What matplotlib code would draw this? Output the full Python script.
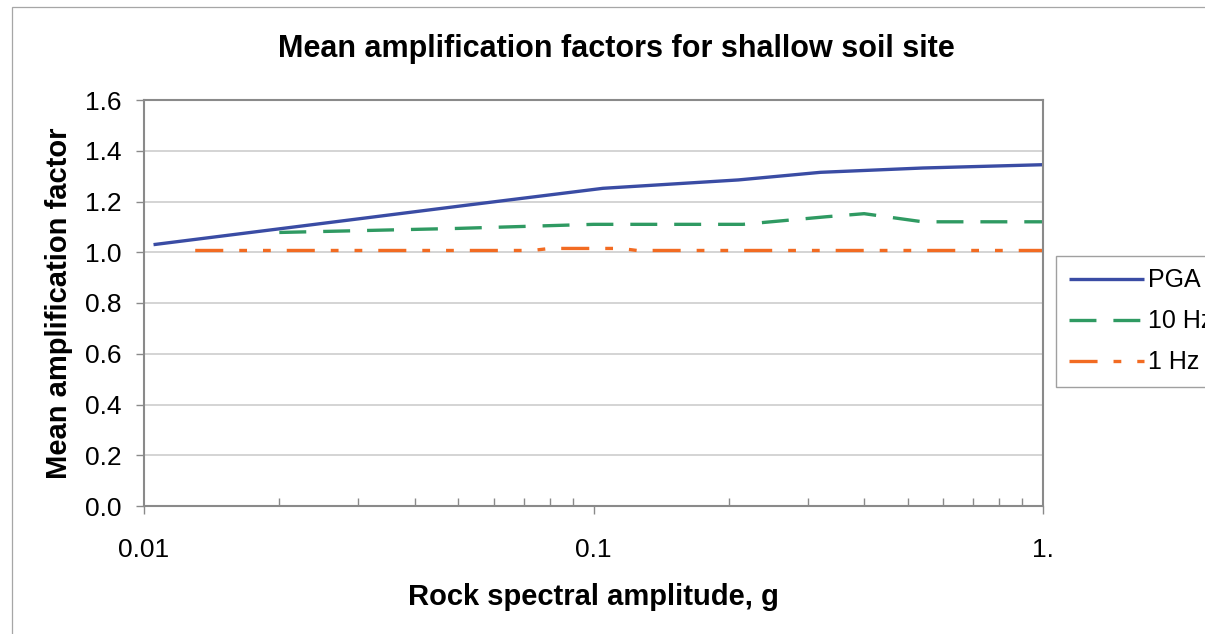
"""Mean amplification factors for a shallow soil site vs rock spectral amplitude (log x)."""
import numpy as np
import matplotlib
matplotlib.use("Agg")
import matplotlib.pyplot as plt
from matplotlib.patches import Rectangle
from matplotlib.ticker import FixedLocator, LogLocator, NullFormatter

plt.rcParams.update({"font.family": ["Liberation Sans", "DejaVu Sans"],
                     "lines.scale_dashes": False})

# rock spectral amplitude (g) and mean amplification factor, one pair of arrays per series
pga_x = [0.0105, 0.021, 0.052, 0.105, 0.21, 0.32, 0.54, 1.0]
pga_y = [1.03, 1.097, 1.185, 1.252, 1.285, 1.315, 1.332, 1.345]
hz10_x = [0.02, 0.05, 0.1, 0.215, 0.33, 0.40, 0.54, 1.0]
hz10_y = [1.078, 1.094, 1.11, 1.11, 1.14, 1.152, 1.12, 1.12]
hz1_x = [0.013, 0.073, 0.08, 0.115, 0.125, 1.0]
hz1_y = [1.007, 1.007, 1.015, 1.015, 1.007, 1.007]

y_ticks = [0.0, 0.2, 0.4, 0.6, 0.8, 1.0, 1.2, 1.4, 1.6]
x_ticks = [0.01, 0.1, 1.0]
x_ticklabels = ["0.01", "0.1", "1."]

BLUE, GREEN, ORANGE = "#3a4ca4", "#2f9a62", "#f26b22"
SPINE, GRID = "#8a8a8a", "#d4d4d4"

fig = plt.figure(figsize=(12.05, 6.34), dpi=100)
ax = fig.add_axes([144 / 1205, 1 - 506 / 634, (1043 - 144) / 1205, (506 - 100) / 634])

# outer chart frame, runs off the right and bottom edges
fig.patches.append(Rectangle((11.5 / 1205, -0.1), 1.2, 1 - 6.5 / 634 + 0.1,
                             transform=fig.transFigure, fill=False,
                             edgecolor="#a6a6a6", lw=0.9))

ax.plot(pga_x, pga_y, color=BLUE, lw=2.4, solid_capstyle="butt", label="PGA")
ax.plot(hz10_x, hz10_y, color=GREEN, lw=2.4, dashes=(19.4, 12.2), label="10 Hz")
ax.plot(hz1_x, hz1_y, color=ORANGE, lw=2.4,
        dashes=(20.2, 11.5, 5.6, 11.5, 5.6, 11.5), label="1 Hz")

ax.set_xscale("log")
ax.set_xlim(0.01, 1.0)
ax.set_ylim(0, 1.6)
ax.xaxis.set_major_locator(FixedLocator(x_ticks))
ax.set_xticklabels(x_ticklabels)
ax.xaxis.set_minor_locator(LogLocator(base=10, subs=np.arange(2, 10)))
ax.xaxis.set_minor_formatter(NullFormatter())
ax.set_yticks(y_ticks)
ax.set_yticklabels([f"{v:.1f}" for v in y_ticks])
ax.yaxis.grid(True, color=GRID, lw=1.4)
ax.set_axisbelow(True)

ax.tick_params(axis="x", which="major", direction="out", length=6, width=1.0,
               color=SPINE, labelsize=19, pad=17)
ax.tick_params(axis="x", which="minor", direction="in", length=6, width=1.0, color=SPINE)
ax.tick_params(axis="y", direction="out", length=6, width=1.0, color=SPINE,
               labelsize=19, pad=10)
for s in ax.spines.values():
    s.set_color(SPINE)
    s.set_linewidth(1.5)

# title sits centred on the whole chart area, not just the plot box
ax.set_title("Mean amplification factors for shallow soil site", fontsize=22,
             fontweight="bold", pad=31, x=0.525)
ax.set_xlabel("Rock spectral amplitude, g", fontsize=21, fontweight="bold", labelpad=15)
ax.set_ylabel("Mean amplification factor", fontsize=21, fontweight="bold", labelpad=9)

leg = fig.legend(loc="upper left", bbox_to_anchor=(1056 / 1205, 1 - 256 / 634),
                 bbox_transform=fig.transFigure, borderaxespad=0, fontsize=18,
                 handlelength=3.0, handletextpad=0.2, labelspacing=0.68,
                 borderpad=0.5, fancybox=False, framealpha=1)
leg.get_frame().set_edgecolor("#a0a0a0")
leg.get_frame().set_linewidth(1.0)

fig.savefig("out.png", dpi=100)
